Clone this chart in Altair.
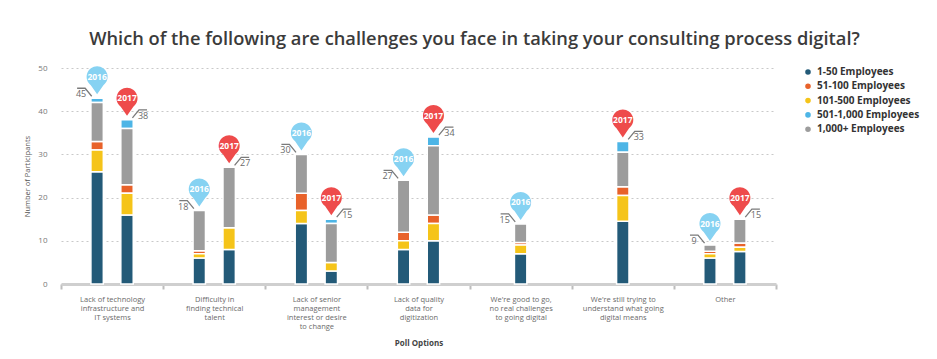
import altair as alt
import pandas as pd

# ---------------- data ----------------
categories = [
    "Lack of technology|infrastructure and|IT systems",
    "Difficulty in|finding technical|talent",
    "Lack of senior|management|interest or desire|to change",
    "Lack of quality|data for|digitization",
    "We're good to go,|no real challenges|to going digital",
    "We're still trying to|understand what going|digital means",
    "Other",
]

# one entry per drawn bar
bar_cat = [0, 0, 1, 1, 2, 2, 3, 3, 4, 5, 6, 6]
bar_year = ["2016", "2017", "2016", "2017", "2016", "2017", "2016", "2017", "2016", "2017", "2016", "2017"]
bar_slot = ["L", "R", "L", "R", "L", "R", "L", "R", "M", "M", "L", "R"]

emp_1_50 = [26, 16, 6, 8, 14, 3, 8, 10, 7, 14.5, 6, 7.5]
emp_51_100 = [2, 2, 0.7, 0, 4, 0, 2, 2, 0.6, 2, 0.6, 1]
emp_101_500 = [5, 5, 1, 5, 3, 2, 2, 4, 2, 6, 1, 1]
emp_501_1000 = [1, 2, 0, 0, 0, 1, 0, 2, 0, 2.5, 0, 0]
emp_1000_plus = [9, 13, 9.3, 14, 9, 9, 12, 16, 4.3, 8, 1.4, 5.5]

total_labels = [45, 38, 18, 27, 30, 15, 27, 34, 15, 33, 9, 15]

size_classes = ["1-50 Employees", "51-100 Employees", "101-500 Employees",
                "501-1,000 Employees", "1,000+ Employees"]
size_colors = ["#235a78", "#e8622a", "#f5c419", "#4db5e6", "#9c9c9c"]
stack_order = [0, 2, 1, 4, 3]  # bottom -> top: 1-50, 101-500, 51-100, 1,000+, 501-1,000
series = [emp_1_50, emp_51_100, emp_101_500, emp_501_1000, emp_1000_plus]

rows = []
for i in range(len(bar_cat)):
    for k, cls in enumerate(size_classes):
        v = series[k][i]
        if v > 0:
            rows.append({"cat": categories[bar_cat[i]], "slot": bar_slot[i], "year": bar_year[i],
                         "size": cls, "value": v, "ord": stack_order[k]})
bars_df = pd.DataFrame(rows)

pins_df = pd.DataFrame({
    "cat": [categories[c] for c in bar_cat],
    "slot": bar_slot,
    "year": bar_year,
    "top": [sum(s[i] for s in series) for i in range(len(bar_cat))],
    "label": [str(t) for t in total_labels],
})

# ---------------- styling ----------------
FONT = "Open Sans"
PIN_PATH = "M0,1 L-0.45,0.35 A0.75,0.75 0 1,1 0.45,0.35 Z"
LEAD_RIGHT = "M0.27,-0.1 L0.6,-0.5 L1,-0.5"
LEAD_LEFT = "M-0.27,-0.1 L-0.6,-0.5 L-1,-0.5"
SLOTS = ["p1", "p2", "L", "M", "R", "p3", "p4"]  # outer slots only add spacing

x_enc = alt.X("cat:N", sort=categories,
              scale=alt.Scale(domain=categories, paddingInner=0, paddingOuter=0),
              axis=alt.Axis(title="Poll Options", labelAngle=0,
                            labelExpr="split(datum.label, '|')",
                            labelFontSize=7.5, labelColor="#6a6a6a", labelLineHeight=9,
                            labelPadding=6, labelLimit=200,
                            domainColor="#cfcfcf", domainWidth=3,
                            tickBand="extent", tickColor="#bdbdbd", tickSize=5, tickWidth=2,
                            titleFontSize=8, titleFontWeight="bold", titleColor="#444444",
                            titlePadding=10, grid=False))
xoff_enc = alt.XOffset("slot:N", scale=alt.Scale(domain=SLOTS, paddingInner=0.17, paddingOuter=0))
y_scale = alt.Scale(domain=[0, 50], nice=False)

bars = alt.Chart(bars_df).mark_bar(stroke="white", strokeWidth=1.5).encode(
    x=x_enc,
    xOffset=xoff_enc,
    y=alt.Y("value:Q", stack="zero", scale=y_scale,
            axis=alt.Axis(values=[0, 10, 20, 30, 40, 50], grid=True, gridDash=[2, 3],
                          gridColor="#c9c9c9", domain=False, ticks=False,
                          labelFontSize=8, labelColor="#777777", labelPadding=14,
                          title="Number of Participants", titleFontSize=7.5,
                          titleColor="#555555", titleFontWeight="normal", titlePadding=6)),
    color=alt.Color("size:N", scale=alt.Scale(domain=size_classes, range=size_colors),
                    legend=alt.Legend(title=None, orient="none", legendX=742, legendY=-1,
                                      symbolType="circle", symbolSize=50, labelFontSize=10,
                                      labelFontWeight="bold", labelColor="#333333",
                                      rowPadding=0.3, padding=0)),
    order=alt.Order("ord:Q"),
)

base = alt.Chart(pins_df).encode(
    x=alt.X("cat:N", sort=categories),
    xOffset=alt.XOffset("slot:N"),
    y=alt.Y("top:Q", scale=y_scale),
)

pin_color = alt.condition(alt.datum.year == "2016", alt.value("#86d2f2"), alt.value("#ee4b4b"))
pins = base.mark_point(shape=PIN_PATH, size=784, filled=True, opacity=1, yOffset=-18).encode(
    color=pin_color)
pin_text = base.mark_text(color="white", fontWeight="bold", fontSize=8.5, dy=-21.5,
                          font=FONT).encode(text="year:N")

lead_left = base.transform_filter(alt.datum.year == "2016").mark_point(
    shape=LEAD_LEFT, size=1600, filled=False, color="#7a7a7a", strokeWidth=1.3, opacity=1)
lead_right = base.transform_filter(alt.datum.year == "2017").mark_point(
    shape=LEAD_RIGHT, size=1600, filled=False, color="#7a7a7a", strokeWidth=1.3, opacity=1)
num_left = base.transform_filter(alt.datum.year == "2016").mark_text(
    dx=-16, dy=-4, fontSize=9, color="#6a6a6a", font=FONT).encode(text="label:N")
num_right = base.transform_filter(alt.datum.year == "2017").mark_text(
    dx=16, dy=-4, fontSize=9, color="#6a6a6a", font=FONT).encode(text="label:N")

chart = alt.layer(bars, lead_left, lead_right, num_left, num_right, pins, pin_text).properties(
    width=715, height=216,
    autosize=alt.AutoSizeParams(type="none"),
    padding={"left": 53, "top": 60, "right": 150, "bottom": 65},
    title=alt.TitleParams(
        "Which of the following are challenges you face in taking your consulting process digital?",
        fontSize=18.3, fontWeight=600, font=FONT, color="#3b3b3b", anchor="middle", dx=56, offset=15),
).configure(font=FONT).configure_view(stroke=None)

chart.save("out.html", embed_options={"renderer": "svg", "actions": False})
